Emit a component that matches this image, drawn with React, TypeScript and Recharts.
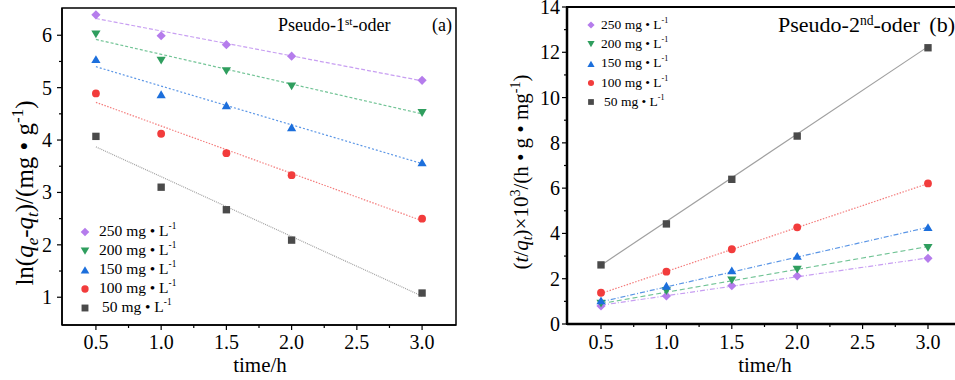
import { ComposedChart, ReferenceArea, Scatter, XAxis, YAxis } from 'recharts';

const FONT = '"Liberation Serif", "Times New Roman", serif';

// sampling times (h)
const TIMES = [0.5, 1.0, 1.5, 2.0, 3.0];
const FIT_T = [0.5, 3.0];
const CONC_LABELS = ['250', '200', '150', '100', '50'];

// (a) pseudo-1st-order: ln(qe - qt)
const P1_250 = [6.39, 5.99, 5.82, 5.6, 5.14];
const P1_200 = [6.02, 5.52, 5.32, 5.03, 4.52];
const P1_150 = [5.54, 4.87, 4.66, 4.24, 3.57];
const P1_100 = [4.89, 4.12, 3.75, 3.33, 2.5];
const P1_50 = [4.07, 3.1, 2.67, 2.09, 1.08];
const P1_FIT_250 = [6.32, 5.13];
const P1_FIT_200 = [5.92, 4.5];
const P1_FIT_150 = [5.4, 3.55];
const P1_FIT_100 = [4.72, 2.46];
const P1_FIT_50 = [3.87, 1.02];

// (b) pseudo-2nd-order: (t/qt) x 10^3
const P2_250 = [0.8, 1.24, 1.69, 2.12, 2.9];
const P2_200 = [0.91, 1.46, 1.94, 2.41, 3.37];
const P2_150 = [1.03, 1.68, 2.36, 3.0, 4.27];
const P2_100 = [1.38, 2.31, 3.3, 4.27, 6.21];
const P2_50 = [2.61, 4.42, 6.39, 8.3, 12.2];
const P2_FIT_250 = [0.83, 2.92];
const P2_FIT_200 = [0.9, 3.42];
const P2_FIT_150 = [0.98, 4.27];
const P2_FIT_100 = [1.35, 6.2];
const P2_FIT_50 = [2.6, 12.25];

const X_TICKS = [0.5, 0.75, 1.0, 1.25, 1.5, 1.75, 2.0, 2.25, 2.5, 2.75, 3.0];
const Y1_TICKS = [1, 1.5, 2, 2.5, 3, 3.5, 4, 4.5, 5, 5.5, 6];
const Y2_TICKS = [0, 1, 2, 3, 4, 5, 6, 7, 8, 9, 10, 11, 12, 13, 14];

type MarkerKind = 'diamond' | 'down' | 'up' | 'circle' | 'square';

const STYLES: { kind: MarkerKind; color: string; line: string; dash1: string; dash2: string }[] = [
  { kind: 'diamond', color: '#b57cec', line: '#c89ff2', dash1: '4 2', dash2: '5 2 1 2' },
  { kind: 'down', color: '#2f9e5e', line: '#72c496', dash1: '3 2', dash2: '5 3' },
  { kind: 'up', color: '#1c6fdc', line: '#5b96e6', dash1: '2 2', dash2: '5 2 1 2' },
  { kind: 'circle', color: '#f23c3c', line: '#f47d7d', dash1: '1.5 1.5', dash2: '1.5 1.5' },
  { kind: 'square', color: '#4a4a4a', line: '#a0a0a0', dash1: '1 1', dash2: '' },
];

const txt = (size: number) => ({ fontFamily: FONT, fontSize: size });

const toPoints = (xs: number[], ys: number[]) => xs.map((x, i) => ({ x, y: ys[i] }));

function drawMarker(kind: MarkerKind, cx: number, cy: number, r: number, color: string) {
  if (kind === 'diamond')
    return <polygon points={`${cx},${cy - r} ${cx + r},${cy} ${cx},${cy + r} ${cx - r},${cy}`} fill={color} />;
  if (kind === 'down')
    return <polygon points={`${cx - r},${cy - r * 0.8} ${cx + r},${cy - r * 0.8} ${cx},${cy + r * 0.9}`} fill={color} />;
  if (kind === 'up')
    return <polygon points={`${cx - r},${cy + r * 0.8} ${cx + r},${cy + r * 0.8} ${cx},${cy - r * 0.9}`} fill={color} />;
  if (kind === 'circle') return <circle cx={cx} cy={cy} r={r * 0.85} fill={color} />;
  return <rect x={cx - r * 0.8} y={cy - r * 0.8} width={r * 1.6} height={r * 1.6} fill={color} />;
}

const markerShape = (kind: MarkerKind, color: string) => (props: any) =>
  <g>{drawMarker(kind, props.cx, props.cy, 4.6, color)}</g>;

const noShape = () => <g />;

const xTick = (labelDy: number, fontSize: number) => (props: any) => {
  const { x, y, payload } = props;
  const v = payload.value as number;
  const major = Math.abs(v * 2 - Math.round(v * 2)) < 1e-6;
  return (
    <g>
      <line x1={x} x2={x} y1={y} y2={y + (major ? 5 : 3)} stroke="#000" strokeWidth={1.2} />
      {major && (
        <text x={x} y={y + labelDy} textAnchor="middle" style={txt(fontSize)} fill="#000">
          {v.toFixed(1)}
        </text>
      )}
    </g>
  );
};

const yTick = (step: number, gap: number, fontSize: number) => (props: any) => {
  const { x, y, payload } = props;
  const v = payload.value as number;
  const major = Math.abs(v / step - Math.round(v / step)) < 1e-6;
  return (
    <g>
      <line x1={x} x2={x - (major ? 5 : 3)} y1={y} y2={y} stroke="#000" strokeWidth={1.2} />
      {major && (
        <text x={x - gap} y={y} dy="0.35em" textAnchor="end" style={txt(fontSize)} fill="#000">
          {v}
        </text>
      )}
    </g>
  );
};

function XLabel({ cx }: { cx: number }) {
  return (
    <text x={cx} y={372} textAnchor="middle" style={txt(21)} fill="#000">
      time/h
    </text>
  );
}

function LeftYLabel() {
  const cx = 24;
  const cy = 193;
  return (
    <text x={cx} y={cy} transform={`rotate(-90, ${cx}, ${cy})`} textAnchor="middle" dy="0.35em" style={txt(25)} fill="#000">
      ln(<tspan fontStyle="italic">q</tspan>
      <tspan fontSize={17} fontStyle="italic" dy={5}>e</tspan>
      <tspan dy={-5}>-</tspan>
      <tspan fontStyle="italic">q</tspan>
      <tspan fontSize={17} fontStyle="italic" dy={5}>t</tspan>
      <tspan dy={-5}>)/(mg • g</tspan>
      <tspan fontSize={17} dy={-10}>-1</tspan>
      <tspan dy={10}>)</tspan>
    </text>
  );
}

function RightYLabel() {
  const cx = 46;
  const cy = 172;
  return (
    <text x={cx} y={cy} transform={`rotate(-90, ${cx}, ${cy})`} textAnchor="middle" dy="0.35em" style={txt(21)} fill="#000">
      (<tspan fontStyle="italic">t</tspan>/<tspan fontStyle="italic">q</tspan>
      <tspan fontSize={14} fontStyle="italic" dy={4}>t</tspan>
      <tspan dy={-4}>)×10</tspan>
      <tspan fontSize={14} dy={-8}>3</tspan>
      <tspan dy={8}>/(h • g • mg</tspan>
      <tspan fontSize={14} dy={-8}>-1</tspan>
      <tspan dy={8}>)</tspan>
    </text>
  );
}

function LegendBox({ left, top, rowH, fontSize, r, textX }: { left: number; top: number; rowH: number; fontSize: number; r: number; textX: number }) {
  return (
    <div style={{ position: 'absolute', left, top, fontFamily: FONT, fontSize, color: '#000' }}>
      {CONC_LABELS.map((c, i) => (
        <div key={c} style={{ position: 'absolute', top: i * rowH, left: 0, height: rowH, whiteSpace: 'nowrap' }}>
          <svg width={14} height={14} style={{ position: 'absolute', left: -7, top: -7 }}>
            {drawMarker(STYLES[i].kind, 7, 7, r, STYLES[i].color)}
          </svg>
          <span style={{ position: 'absolute', left: textX + (c.length < 3 ? 3 : 0), top: -fontSize * 0.62 }}>
            {c} mg • L<sup style={{ fontSize: fontSize * 0.6, verticalAlign: 'top', lineHeight: 1 }}>-1</sup>
          </span>
        </div>
      ))}
    </div>
  );
}

function Title({ left, right, top, fontSize, order, suffix, tag }: { left: number; right: number; top: number; fontSize: number; order: string; suffix: string; tag: string }) {
  return (
    <div style={{ position: 'absolute', left, width: right - left, top, fontFamily: FONT, fontSize, whiteSpace: 'nowrap', display: 'flex', justifyContent: 'space-between', lineHeight: 1 }}>
      <span>
        Pseudo-{order}
        <sup style={{ fontSize: fontSize * 0.62, verticalAlign: 'top', lineHeight: 1 }}>{suffix}</sup>-oder
      </span>
      <span>{tag}</span>
    </div>
  );
}

const P1_SERIES = [P1_250, P1_200, P1_150, P1_100, P1_50];
const P1_FITS = [P1_FIT_250, P1_FIT_200, P1_FIT_150, P1_FIT_100, P1_FIT_50];
const P2_SERIES = [P2_250, P2_200, P2_150, P2_100, P2_50];
const P2_FITS = [P2_FIT_250, P2_FIT_200, P2_FIT_150, P2_FIT_100, P2_FIT_50];

const X_DOMAIN: [number, number] = [0.24, 3.26];
const Y1_DOMAIN: [number, number] = [0.47, 6.52];
const Y2_DOMAIN: [number, number] = [0, 14];

export default function App() {
  return (
    <div style={{ position: 'absolute', left: 0, top: 0, width: 955, height: 380, overflow: 'hidden', background: '#fff' }}>
      <div style={{ position: 'absolute', left: 0, top: 0 }}>
        <ComposedChart width={470} height={380} margin={{ top: 8, right: 14, left: 0, bottom: 0 }}>
          <XAxis
            type="number"
            dataKey="x"
            domain={X_DOMAIN}
            ticks={X_TICKS}
            interval={0}
            height={55}
            tickSize={0}
            tickMargin={0}
            tickLine={false}
            tick={xTick(24, 20)}
            axisLine={{ stroke: '#000', strokeWidth: 1.5 }}
            allowDataOverflow
            label={<XLabel cx={260} />}
          />
          <YAxis
            type="number"
            dataKey="y"
            domain={Y1_DOMAIN}
            ticks={Y1_TICKS}
            interval={0}
            width={62}
            tickSize={0}
            tickMargin={0}
            tickLine={false}
            tick={yTick(1, 10, 20)}
            axisLine={{ stroke: '#000', strokeWidth: 1.5 }}
            allowDataOverflow
            label={<LeftYLabel />}
          />
          <ReferenceArea x1={X_DOMAIN[0]} x2={X_DOMAIN[1]} y1={Y1_DOMAIN[0]} y2={Y1_DOMAIN[1]} fill="none" stroke="#000" strokeWidth={1.5} ifOverflow="visible" />
          {P1_FITS.map((f, i) => (
            <Scatter
              key={`f${i}`}
              data={toPoints(FIT_T, f)}
              shape={noShape}
              line={{ stroke: STYLES[i].line, strokeWidth: 1.2, strokeDasharray: STYLES[i].dash1 }}
              isAnimationActive={false}
            />
          ))}
          {P1_SERIES.map((s, i) => (
            <Scatter key={`s${i}`} data={toPoints(TIMES, s)} shape={markerShape(STYLES[i].kind, STYLES[i].color)} isAnimationActive={false} />
          ))}
        </ComposedChart>
        <Title left={278} right={452} top={16} fontSize={18} order="1" suffix="st" tag="(a)" />
        <LegendBox left={85} top={232} rowH={19} fontSize={15.5} r={4.3} textX={14} />
      </div>

      <div style={{ position: 'absolute', left: 475, top: 0 }}>
        <ComposedChart width={495} height={380} margin={{ top: 7, right: 8, left: 0, bottom: 0 }}>
          <XAxis
            type="number"
            dataKey="x"
            domain={X_DOMAIN}
            ticks={X_TICKS}
            interval={0}
            height={56}
            tickSize={0}
            tickMargin={0}
            tickLine={false}
            tick={xTick(25, 20)}
            axisLine={{ stroke: '#000', strokeWidth: 2.5 }}
            allowDataOverflow
            label={<XLabel cx={290} />}
          />
          <YAxis
            type="number"
            dataKey="y"
            domain={Y2_DOMAIN}
            ticks={Y2_TICKS}
            interval={0}
            width={92}
            tickSize={0}
            tickMargin={0}
            tickLine={false}
            tick={yTick(2, 7, 20)}
            axisLine={{ stroke: '#000', strokeWidth: 2.5 }}
            allowDataOverflow
            label={<RightYLabel />}
          />
          <ReferenceArea x1={X_DOMAIN[0]} x2={X_DOMAIN[1]} y1={Y2_DOMAIN[0]} y2={Y2_DOMAIN[1]} fill="none" stroke="#000" strokeWidth={2} ifOverflow="visible" />
          {P2_FITS.map((f, i) => (
            <Scatter
              key={`f${i}`}
              data={toPoints(FIT_T, f)}
              shape={noShape}
              line={{ stroke: STYLES[i].line, strokeWidth: 1.2, strokeDasharray: STYLES[i].dash2 }}
              isAnimationActive={false}
            />
          ))}
          {P2_SERIES.map((s, i) => (
            <Scatter key={`s${i}`} data={toPoints(TIMES, s)} shape={markerShape(STYLES[i].kind, STYLES[i].color)} isAnimationActive={false} />
          ))}
        </ComposedChart>
        <Title left={303} right={480} top={14} fontSize={22} order="2" suffix="nd" tag="(b)" />
        <LegendBox left={116} top={25} rowH={19.3} fontSize={13.5} r={3.6} textX={10} />
      </div>
    </div>
  );
}
